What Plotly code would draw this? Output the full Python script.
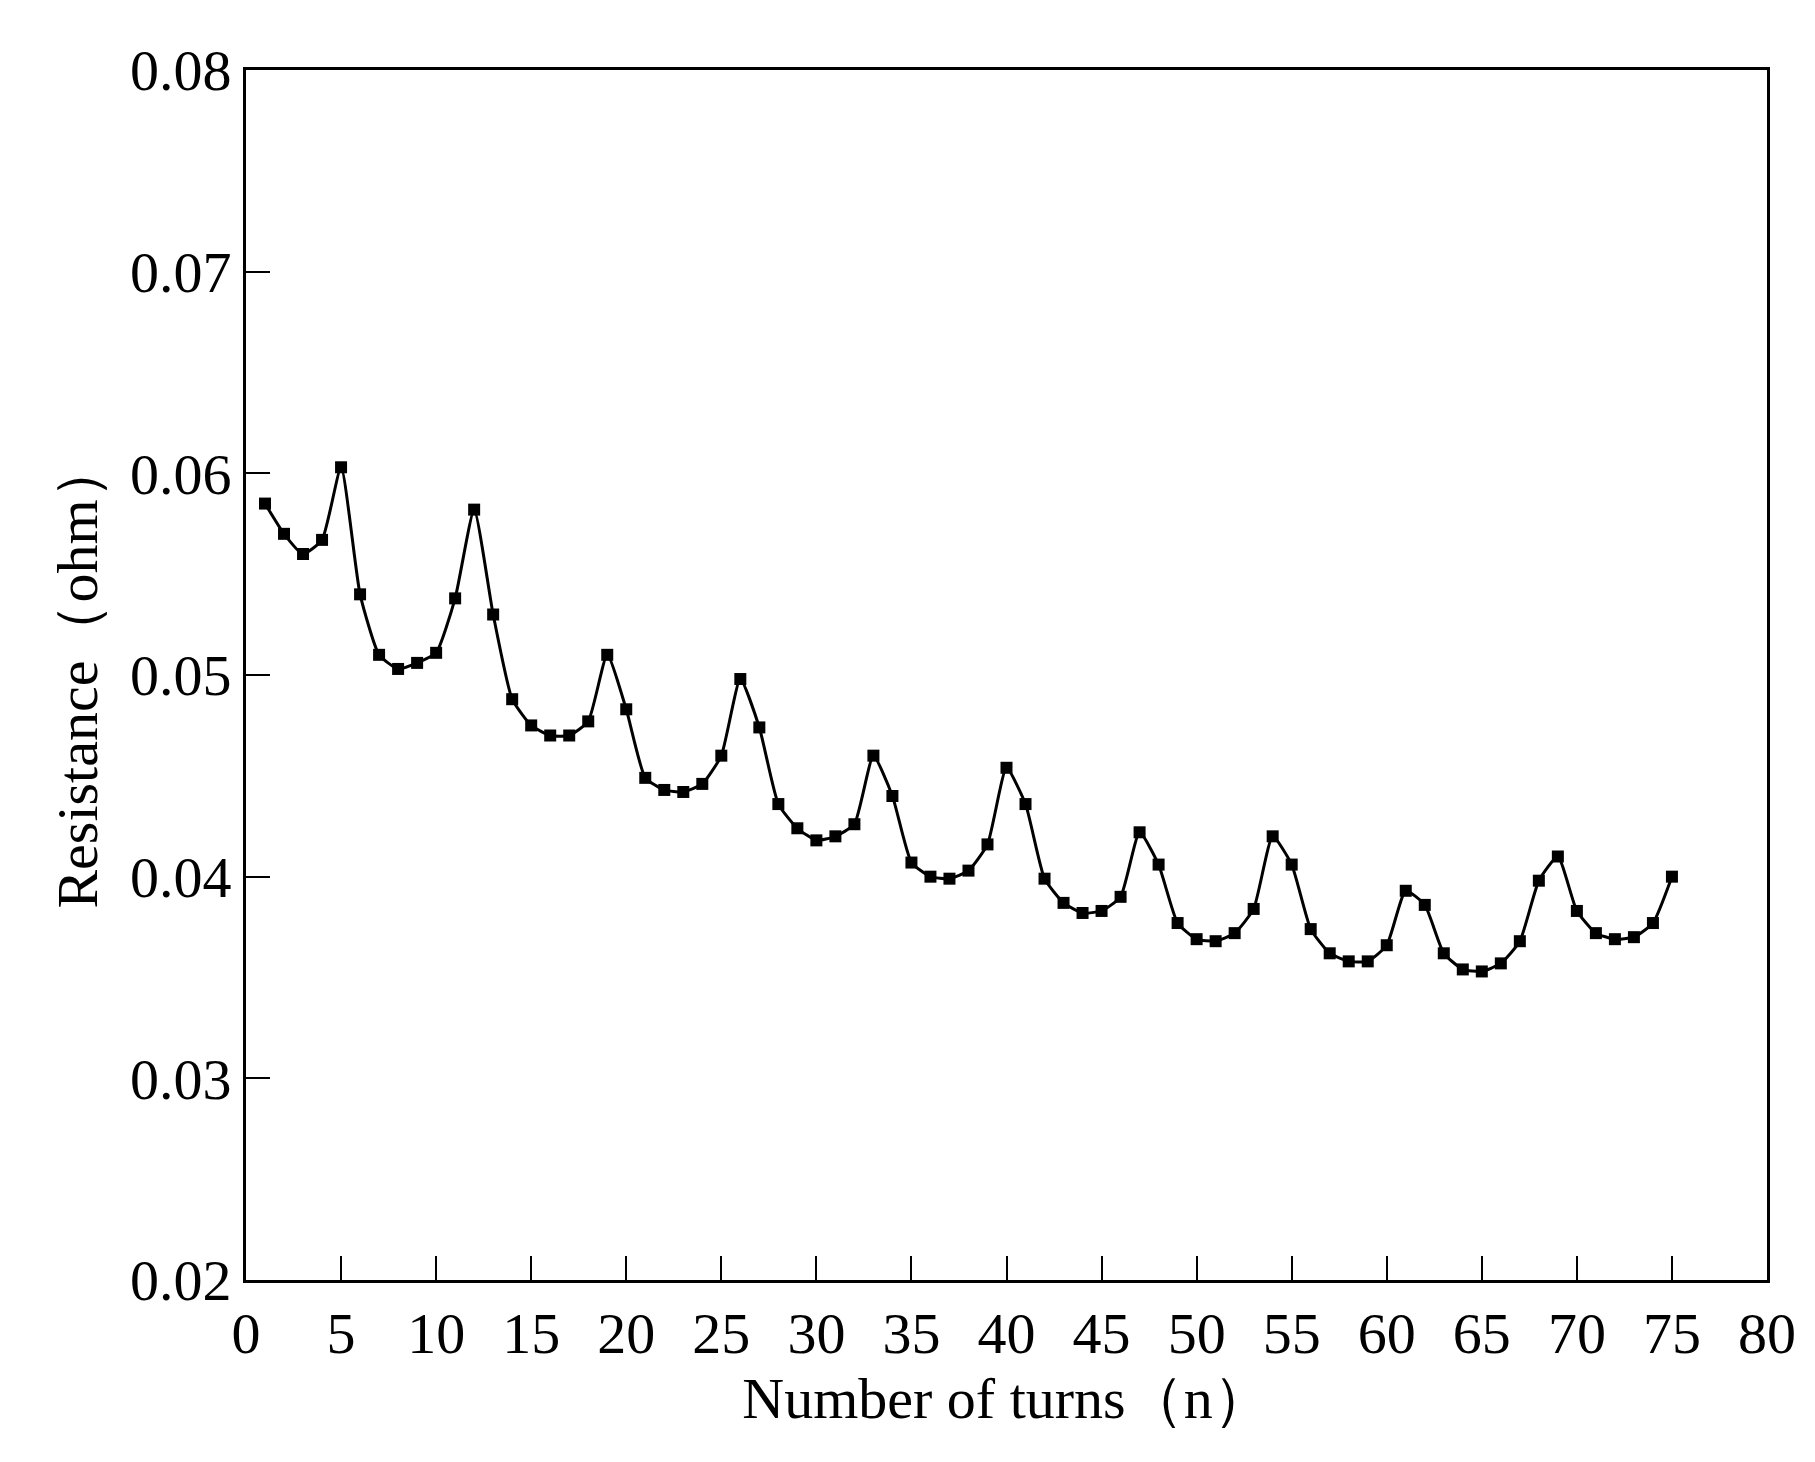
import plotly.graph_objects as go

turns = list(range(1, 76))
resistance = [
    0.0585, 0.0570, 0.0560, 0.0567, 0.0603, 0.0540, 0.0510, 0.0503, 0.0506, 0.0511,
    0.0538, 0.0582, 0.0530, 0.0488, 0.0475, 0.0470, 0.0470, 0.0477, 0.0510, 0.0483,
    0.0449, 0.0443, 0.0442, 0.0446, 0.0460, 0.0498, 0.0474, 0.0436, 0.0424, 0.0418,
    0.0420, 0.0426, 0.0460, 0.0440, 0.0407, 0.0400, 0.0399, 0.0403, 0.0416, 0.0454,
    0.0436, 0.0399, 0.0387, 0.0382, 0.0383, 0.0390, 0.0422, 0.0406, 0.0377, 0.0369,
    0.0368, 0.0372, 0.0384, 0.0420, 0.0406, 0.0374, 0.0362, 0.0358, 0.0358, 0.0366,
    0.0393, 0.0386, 0.0362, 0.0354, 0.0353, 0.0357, 0.0368, 0.0398, 0.0410, 0.0383,
    0.0372, 0.0369, 0.0370, 0.0377, 0.0400,
]

fig = go.Figure(go.Scatter(
    x=turns, y=resistance, mode="lines+markers",
    line=dict(color="black", width=3, shape="spline", smoothing=0.5),
    marker=dict(symbol="square", size=12, color="black"),
))

font = dict(family="Liberation Serif, Times New Roman, serif", size=58, color="black")
axis = dict(showline=True, linecolor="black", linewidth=3, mirror=True,
            ticks="inside", ticklen=24, tickwidth=2, tickcolor="black",
            showgrid=False, zeroline=False, tickfont=font)

fig.update_layout(
    width=1815, height=1462, plot_bgcolor="white", paper_bgcolor="white",
    margin=dict(l=238, r=56, t=62, b=190), showlegend=False, font=font,
    xaxis=dict(axis, range=[0, 80], dtick=5, title=dict(text="Number of turns（n）", font=font, standoff=8)),
    yaxis=dict(axis, range=[0.02, 0.08], dtick=0.01, tickformat=".2f",
               title=dict(text="Resistance（ohm）", font=font, standoff=14)),
)

fig.write_html("out.html")
